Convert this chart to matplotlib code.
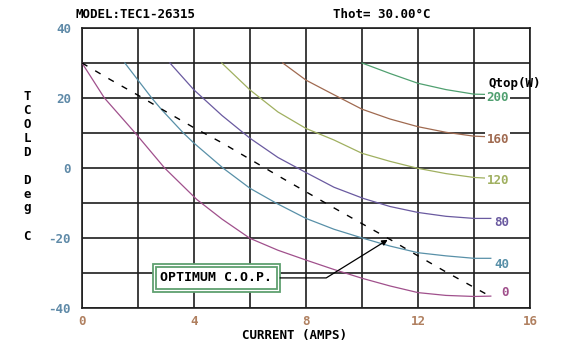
import matplotlib.pyplot as plt

plt.rcParams['font.family'] = ['DejaVu Sans Mono']
plt.rcParams['font.weight'] = 'bold'

# Qtop curves: current (A) vs Tcold (°C)
q0_x = [0, 0.8, 1.9, 2.95, 4.1, 5.0, 6.0, 7.0, 8.0, 9.0, 10.0, 11.0, 12.0, 13.0, 14.0, 14.6]
q0_y = [30, 20, 10, 0, -9.0, -14.6, -20.1, -23.5, -26.3, -29.0, -31.5, -33.7, -35.6, -36.4, -36.7, -36.6]

q40_x = [1.53, 2.0, 2.49, 2.85, 3.62, 4.0, 5.05, 6.0, 6.95, 8.0, 9.0, 10.05, 11.0, 12.0, 13.0, 14.0, 14.6]
q40_y = [30, 25.1, 20, 16.6, 10, 7.1, -0.1, -5.8, -10.1, -14.4, -17.5, -20.1, -22.3, -24.2, -25.1, -25.8, -25.8]

q80_x = [3.14, 4.0, 5.0, 6.0, 7.0, 8.0, 9.0, 10.05, 11.0, 12.0, 13.0, 14.0, 14.6]
q80_y = [30, 22.3, 15.0, 8.5, 3.0, -1.3, -5.5, -8.7, -11.0, -12.7, -13.8, -14.4, -14.4]

q120_x = [4.99, 6.0, 7.0, 8.0, 9.0, 10.0, 11.0, 12.0, 13.0, 14.0, 14.6]
q120_y = [30, 22.3, 16.0, 11.3, 8.0, 4.2, 1.9, -0.1, -1.6, -2.7, -2.95]

q160_x = [7.17, 8.0, 8.86, 10.0, 11.0, 12.0, 13.0, 14.0, 14.6]
q160_y = [30, 25.1, 21.5, 16.8, 14.0, 11.8, 10.2, 9.1, 8.9]

q200_x = [10.0, 11.0, 12.0, 13.0, 14.0, 14.6]
q200_y = [30, 27.0, 24.2, 22.4, 21.1, 21.0]

# optimum C.O.P. line
cop_x = [0, 1, 2, 3, 4, 5, 6, 7, 8, 9, 10, 11, 12, 13, 14, 14.57]
cop_y = [30, 25.3, 20.8, 16.1, 11.5, 7.2, 2.5, -2.2, -6.8, -11.4, -15.9, -20.4, -25.1, -29.7, -34.1, -36.6]

q_labels = ['0', '40', '80', '120', '160', '200']
q_label_y = [-35.6, -27.5, -15.6, -3.6, 8.2, 20.1]
q_colors = ['#a0508c', '#5890a8', '#6a5aa0', '#a0b060', '#a06a50', '#50a070']

x_ticks = [0, 4, 8, 12, 16]
y_ticks = [-40, -20, 0, 20, 40]

fig = plt.figure(figsize=(5.66, 3.54), dpi=100)
ax = fig.add_axes([0.1449, 0.1299, 0.7915, 0.791])

ax.set_xlim(0, 16)
ax.set_ylim(-40, 40)
ax.set_xticks(range(0, 17, 2))
ax.set_yticks(range(-40, 41, 10))
ax.grid(True, color='#1e1e1e', lw=1.2)
ax.set_axisbelow(True)
for s in ax.spines.values():
    s.set_color('#1e1e1e')
    s.set_linewidth(1.2)

# only label every other grid line
ax.set_xticklabels([str(v) if v in x_ticks else '' for v in range(0, 17, 2)])
ax.set_yticklabels([str(v) if v in y_ticks else '' for v in range(-40, 41, 10)])
ax.tick_params(axis='x', length=0, pad=5, labelsize=9, labelcolor='#b08060')
ax.tick_params(axis='y', length=0, pad=8, labelsize=9, labelcolor='#5f8aa8')

curves = [(q0_x, q0_y), (q40_x, q40_y), (q80_x, q80_y),
          (q120_x, q120_y), (q160_x, q160_y), (q200_x, q200_y)]
for (cx, cy), c in zip(curves, q_colors):
    ax.plot(cx, cy, color=c, lw=0.9, zorder=3)

for lab, ly, c in zip(q_labels, q_label_y, q_colors):
    ax.text(15.25, ly, lab, color=c, ha='right', va='center', fontsize=9,
            bbox=dict(boxstyle='square,pad=0.1', fc='white', ec='none'), zorder=4)
ax.text(15.46, 24.2, 'Qtop(W)', ha='center', va='center', fontsize=9, clip_on=False, zorder=4)

ax.plot(cop_x, cop_y, color='black', lw=1.0, dashes=(4.5, 6.5), zorder=3)

# annotation box with double border
ax.text(4.8, -31.4, 'OPTIMUM C.O.P.', ha='center', va='center', fontsize=9.5, color='none',
        bbox=dict(boxstyle='square,pad=0.55', fc='white', ec='#5fa070', lw=1.3), zorder=5)
ax.annotate('OPTIMUM C.O.P.', xy=(11.0, -20.1), xytext=(4.8, -31.4),
            ha='center', va='center', fontsize=9.5, color='black',
            bbox=dict(boxstyle='square,pad=0.32', fc='white', ec='#5fa070', lw=1.3),
            arrowprops=dict(arrowstyle='-|>,head_length=0.35,head_width=0.18',
                            color='black', lw=0.9,
                            connectionstyle='angle,angleA=0,angleB=31.8,rad=0'),
            zorder=6)

fig.text(75 / 566, 1 - 14 / 354, 'MODEL:TEC1-26315', ha='left', va='center', fontsize=9)
fig.text(333 / 566, 1 - 14 / 354, 'Thot= 30.00\u00b0C', ha='left', va='center', fontsize=9)
fig.text(295 / 566, 1 - 335 / 354, 'CURRENT (AMPS)', ha='center', va='center', fontsize=9)
fig.text(27 / 566, 1 - 166 / 354, 'T\nC\nO\nL\nD\n\nD\ne\ng\n\nC', ha='center', va='center',
         fontsize=9, linespacing=1.1)

fig.savefig('out.png', dpi=100)
